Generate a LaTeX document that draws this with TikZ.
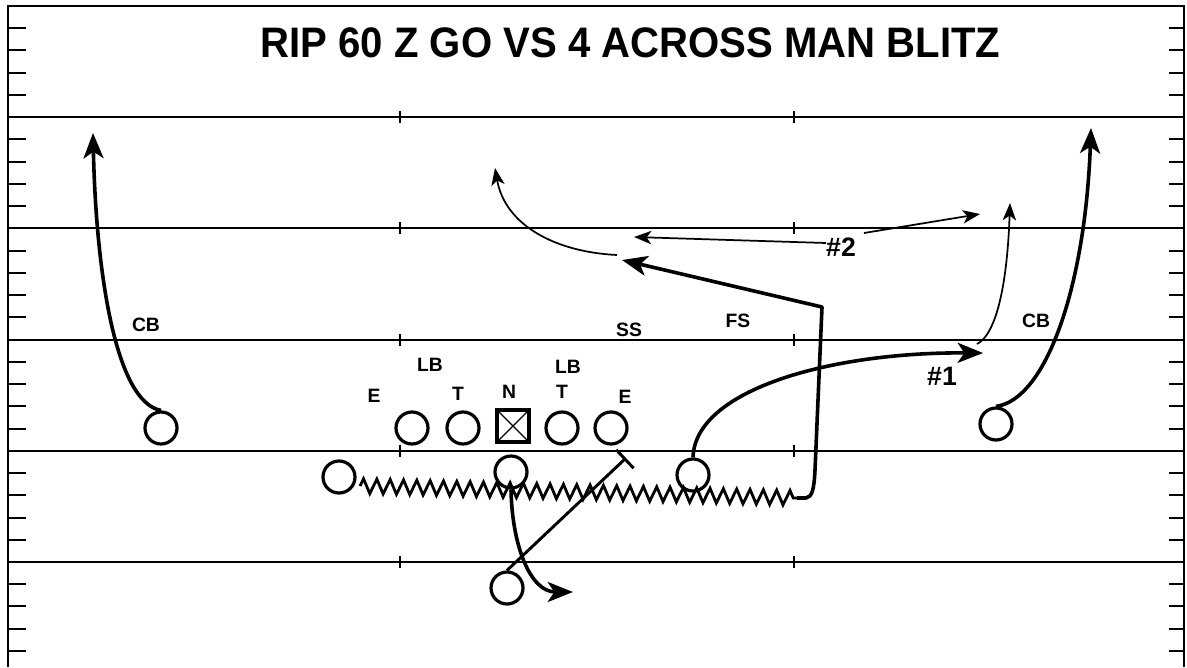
\documentclass[tikz,border=0pt]{standalone}
\usepackage{fontspec}
\setmainfont{Liberation Sans}
\usetikzlibrary{arrows.meta,decorations.pathmorphing}
\begin{document}
\begin{tikzpicture}[x=0.75pt,y=-0.75pt,
  fieldline/.style={line width=1.6pt},
  hashmark/.style={line width=1.5pt},
  player/.style={circle,draw,line width=2.4pt,minimum size=24pt,inner sep=0pt},
  centerbox/.style={rectangle,draw,line width=2.7pt,minimum size=24pt,inner sep=0pt,
    path picture={\draw[line width=0.9pt] (path picture bounding box.north west) -- (path picture bounding box.south east)
      (path picture bounding box.south west) -- (path picture bounding box.north east);}},
  lab/.style={font=\fontsize{14.5}{14.5}\selectfont\bfseries,inner sep=0pt,anchor=base},
  numlab/.style={font=\fontsize{20}{20}\selectfont\bfseries,inner sep=0pt,anchor=base},
  boldroute/.style={line width=2.7pt,-{Stealth[length=19pt,width=15pt,inset=5pt]}},
  thinroute/.style={line width=1.3pt,-{Stealth[length=13pt,width=10pt,inset=3.5pt]}},
  motion/.style={line width=2.1pt,decorate,decoration={zigzag,segment length=10pt,amplitude=5.5pt}},
  block/.style={line width=2.2pt,-{Bar[width=19pt,line width=2.2pt]}}
]
\useasboundingbox (0,0) rectangle (1187,667);
% field
\draw[fieldline] (8,667) -- (8,6) -- (1184,6) -- (1184,667);
\foreach \b in {117.2,228.4,339.6,450.8,562}{
  \draw[fieldline] (8,\b) -- (1184,\b);
  \draw[hashmark] (400,\b-6) -- (400,\b+6);
  \draw[hashmark] (794,\b-6) -- (794,\b+6);
}
\foreach \b in {6,117.2,228.4,339.6,450.8,562}{
  \foreach \j in {1,...,4}{
    \draw[hashmark] (8,\b+\j*22.24) -- (26,\b+\j*22.24);
    \draw[hashmark] (1169,\b+\j*22.24) -- (1184,\b+\j*22.24);
  }
}
% title
\node[inner sep=0pt,anchor=base] (title) at (630.5,58)
  {\fontsize{32}{32}\selectfont\bfseries\scalebox{0.94}[1]{RIP 60 Z GO VS 4 ACROSS MAN BLITZ}};
% defense labels
\node[lab] (lcb) at (146,331) {CB};
\node[lab] (llb) at (430,371) {LB};
\node[lab] (le) at (374,402) {E};
\node[lab] (lt) at (458,400) {T};
\node[lab] (ln) at (509,398) {N};
\node[lab] (rt) at (562,398) {T};
\node[lab] (rlb) at (568,373) {LB};
\node[lab] (re) at (625,403) {E};
\node[lab] (ss) at (629,336) {SS};
\node[lab] (fs) at (738,327) {FS};
\node[lab] (rcb) at (1036,327) {CB};
\node[numlab] (n2) at (841,256) {\#2};
\node[numlab] (n1) at (942,385) {\#1};
% offense players
\node[player] (cbL) at (161,428) {};
\node[player] (lg) at (412,428) {};
\node[player] (ltk) at (463,428) {};
\node[centerbox] (ctrbox) at (513,426) {};
\node[player] (rtk) at (562,428) {};
\node[player] (rg) at (611,428) {};
\node[player] (wr) at (339,477) {};
\node[player] (ctr) at (511,472) {};
\node[player] (slot) at (693,475) {};
\node[player] (qb) at (507,588) {};
\node[player] (cbR) at (996,424) {};
% coordinates
\coordinate (cbLtip) at (93,133);
\coordinate (cbRtip) at (1091,128);
\coordinate (motionStart) at (360,486);
\coordinate (motionEnd) at (797,498);
\coordinate (breakPt) at (822,307);
\coordinate (zTip) at (622,260);
\coordinate (n1Tip) at (983,353);
\coordinate (hookStart) at (977,344);
\coordinate (hookTip) at (1010,203);
\coordinate (curlStart) at (617,255);
\coordinate (curlTip) at (495,168);
\coordinate (n2Lstart) at (826,243);
\coordinate (n2Ltip) at (634,237);
\coordinate (n2Rstart) at (864,233);
\coordinate (n2Rtip) at (980,214);
\coordinate (ctrTip) at (573,592);
\coordinate (blockEnd) at (626,458);
% routes
\draw[boldroute] (cbL.north) .. controls (115,402) and (96,270) .. (cbLtip);
\draw[boldroute] (cbR.north) .. controls (1045,400) and (1085,290) .. (cbRtip);
\draw[boldroute] (slot.north) .. controls (695,390) and (830,352) .. (n1Tip);
\draw[motion] (motionStart) -- (motionEnd);
\draw[boldroute,line join=round] (motionEnd) -- (806,498) .. controls (812,497) and (814,490) .. (815,470) -- (breakPt) -- (zTip);
\draw[thinroute] (hookStart) .. controls (995,335) and (1007,290) .. (hookTip);
\draw[thinroute] (curlStart) .. controls (555,252) and (505,225) .. (curlTip);
\draw[thinroute] (n2Lstart) -- (n2Ltip);
\draw[thinroute] (n2Rstart) -- (n2Rtip);
\draw[boldroute] (ctr.south) .. controls (512,545) and (530,592) .. (ctrTip);
\draw[block] (qb.north) -- (blockEnd);
\end{tikzpicture}
\end{document}
